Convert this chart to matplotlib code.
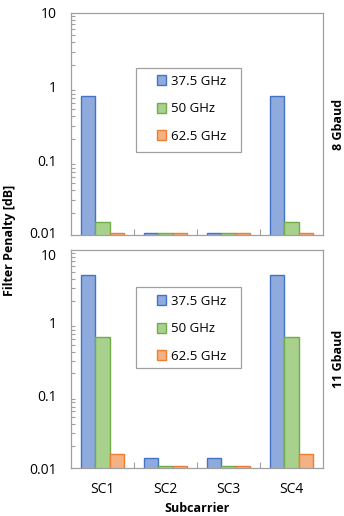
import numpy as np
import matplotlib
matplotlib.use('Agg')
import matplotlib.pyplot as plt
import matplotlib.transforms as mtransforms
from matplotlib.patches import Rectangle
from matplotlib.ticker import LogLocator, NullFormatter, FixedLocator

plt.rcParams['font.family'] = ['Open Sans', 'DejaVu Sans']

subcarriers = ['SC1', 'SC2', 'SC3', 'SC4']
series = ['37.5 GHz', '50 GHz', '62.5 GHz']

# filter penalty [dB], 8 Gbaud
pen_8 = [[0.75, 0.0105, 0.0105, 0.75],
         [0.015, 0.0105, 0.0105, 0.015],
         [0.0105, 0.0105, 0.0105, 0.0105]]
# filter penalty [dB], 11 Gbaud
pen_11 = [[4.6, 0.0136, 0.0136, 4.6],
          [0.64, 0.0105, 0.0105, 0.64],
          [0.0156, 0.0105, 0.0105, 0.0156]]

fills = ['#8FAADC', '#A9D18E', '#F4B183']
edges = ['#4472C4', '#70AD47', '#ED7D31']
grey = '#A0A0A0'

fig = plt.figure(figsize=(3.44, 5.16), dpi=100)
ax1 = fig.add_axes([71/344, 1-235/516, 252/344, 222/516])
ax2 = fig.add_axes([71/344, 1-468/516, 252/344, 218/516])

x = np.arange(len(subcarriers))
w = 0.227

# (axes, data, legend centre y, box y0, box height, right label)
panels = [(ax1, pen_8, 0.568, 0.374, 0.378, '8 Gbaud'),
          (ax2, pen_11, 0.638, 0.457, 0.375, '11 Gbaud')]

for ax, data, leg_y, box_y, box_h, rlab in panels:
    for i in range(3):
        ax.bar(x + (i - 1) * w, data[i], w, color=fills[i], edgecolor=edges[i],
               linewidth=1.0, label=series[i], zorder=2)
    ax.set_yscale('log')
    ax.set_ylim(0.01, 10)
    ax.set_xlim(-0.5, 3.5)
    ax.set_yticks([0.01, 0.1, 1, 10])
    ax.set_yticklabels(['0.01', '0.1', '1', '10'])
    ax.yaxis.set_minor_locator(LogLocator(base=10, subs=np.arange(2, 10)))
    ax.yaxis.set_minor_formatter(NullFormatter())
    ax.tick_params(axis='y', which='major', length=0, labelsize=10, pad=10)
    ax.tick_params(axis='y', which='minor', direction='in', length=3, color=grey, width=0.8)
    ax.xaxis.set_major_locator(FixedLocator([0.5, 1.5, 2.5]))
    ax.xaxis.set_minor_locator(FixedLocator(x))
    ax.tick_params(axis='x', which='major', direction='in', length=4, color=grey,
                   labelbottom=False, width=0.8)
    ax.tick_params(axis='x', which='minor', length=0, labelsize=10, pad=10)
    for s in ax.spines.values():
        s.set_color(grey)
        s.set_linewidth(0.9)
    ax.add_patch(Rectangle((0.258, box_y), 0.417, box_h, transform=ax.transAxes,
                           facecolor='white', edgecolor=grey, linewidth=0.9, zorder=3))
    leg = ax.legend(loc='center', bbox_to_anchor=(0.478, leg_y), fontsize=9.5,
                    frameon=False, handlelength=0.75, handleheight=0.75,
                    handletextpad=0.35, labelspacing=1.1, borderpad=0,
                    borderaxespad=0)
    leg.set_zorder(4)
    ax.text(1.06, 0.5, rlab, transform=ax.transAxes, rotation=90, ha='center',
            va='center', fontsize=9, fontweight='bold')

# keep the "0.01" and "10" labels between the panels apart
lbl = ax1.get_yticklabels()[0]
lbl.set_transform(lbl.get_transform() + mtransforms.ScaledTranslation(0, 2/72, fig.dpi_scale_trans))
lbl = ax2.get_yticklabels()[-1]
lbl.set_transform(lbl.get_transform() + mtransforms.ScaledTranslation(0, -3/72, fig.dpi_scale_trans))

ax1.xaxis.set_minor_formatter(NullFormatter())
ax2.set_xticks(x, minor=True)
ax2.set_xticklabels(subcarriers, minor=True)
ax2.set_xlabel('Subcarrier', fontsize=9, fontweight='bold', labelpad=4)

fig.text(10/344, 1-240/516, 'Filter Penalty [dB]', rotation=90, ha='center', va='center',
         fontsize=9, fontweight='bold')

fig.savefig('out.png', dpi=100)
